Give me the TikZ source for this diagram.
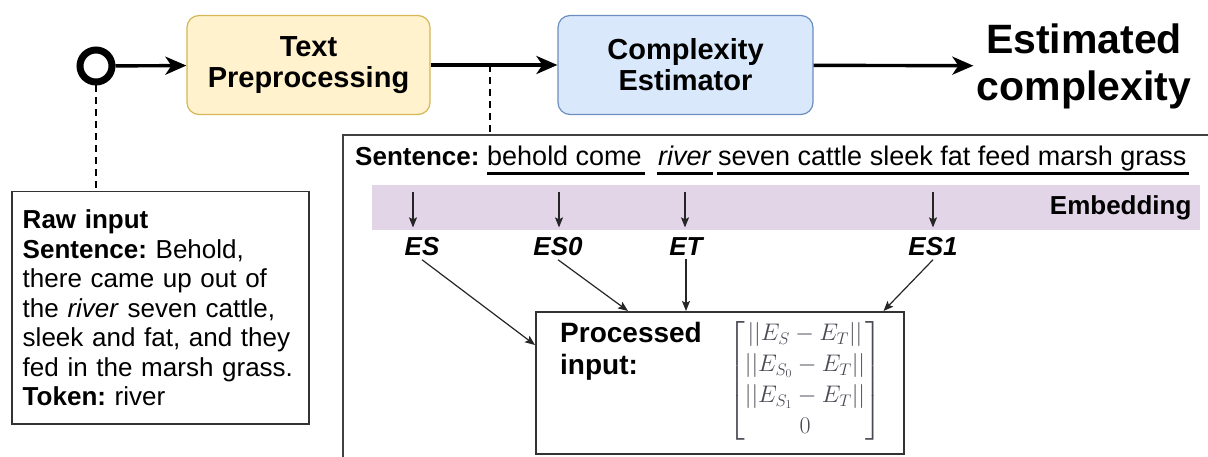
\RequirePackage{fix-cm}
\documentclass[tikz,border=0pt]{standalone}
\usepackage{amsmath}
\usepackage[no-math]{fontspec}
\setmainfont{Liberation Sans}
\usetikzlibrary{arrows.meta,positioning,calc}
\definecolor{prepfill}{HTML}{FFF2CC}
\definecolor{prepdraw}{HTML}{D6B656}
\definecolor{estfill}{HTML}{DAE8FC}
\definecolor{estdraw}{HTML}{6C8EBF}
\definecolor{embfill}{HTML}{E1D5E7}
\definecolor{mathgray}{HTML}{4A4A55}
\frenchspacing

\begin{document}
\begin{tikzpicture}[x=1pt, y=-1pt,
   stage/.style = {draw, rounded corners=12pt, line width=1.2pt, minimum height=99pt,
                   align=center, font=\fontsize{29}{31}\selectfont\bfseries},
   flow/.style = {-{Stealth[length=21pt, width=18pt, inset=6pt]}, line width=3.4pt},
   link/.style = {dash pattern=on 7pt off 5pt, line width=1.8pt},
   emb/.style = {-{Stealth[length=10pt, width=8pt, inset=2pt]}, line width=1.2pt, black!85},
   vec/.style = {font=\fontsize{26}{30}\selectfont\bfseries\itshape},
   words/.style = {inner sep=0pt, font=\fontsize{27}{30}\selectfont},
   box/.style = {draw=black!80, line width=1.5pt}
  ]
   \useasboundingbox (0,0) rectangle (1208,457);
   % top row
   \node[circle, draw, line width=7pt, minimum size=32pt, inner sep=0pt] (start) at (96,66) {};
   \node[stage, draw=prepdraw, fill=prepfill, minimum width=243pt] (prep) at (308.5,65) {Text\\Preprocessing};
   \node[stage, draw=estdraw, fill=estfill, minimum width=255pt] (est) at (685.5,65) {Complexity\\Estimator};
   \node[align=center, font=\fontsize{41}{47}\selectfont\bfseries] (out) at (1084,66) {Estimated\\complexity};
   \draw[flow] (start) -- (prep);
   \draw[flow] (prep) -- (est);
   \draw[flow] (est) -- (out);
   \coordinate (tap) at (490,65);
   \coordinate (frame) at (343,135);

   % raw input
   \node[box, anchor=north west, minimum width=297pt, minimum height=232pt, inner xsep=11pt,
         text width=275pt, align=left, font=\fontsize{26}{29.5}\selectfont] (raw) at (11,191)
        {\textbf{Raw input}\\ \textbf{Sentence:} Behold,\\ there came up out of\\
         the \textit{river} seven cattle,\\ sleek and fat, and they\\
         fed in the marsh grass.\\ \textbf{Token:} river};
   \draw[link] (start.south) -- (start |- raw.north);

   % processing frame
   \draw[black!75, line width=1.5pt] (1208,135) -| (343,457);
   \draw[link] (tap) -- (tap |- frame);
   \node[words, anchor=base west, font=\fontsize{26}{30}\selectfont\bfseries] (lbl) at (355,166) {Sentence:};
   \node[words, anchor=base west] (w1) at (487,166) {behold come};
   \node[words, anchor=base west] (w2) at (658,166) {\textit{river}};
   \node[words, anchor=base west] (w3) at (718,166) {seven cattle sleek fat feed marsh grass};
   \draw[line width=3pt] ($(w1.base west)+(0,8)$) -- ($(w1.base east)+(3,8)$);
   \draw[line width=3pt] ($(w2.base west)+(-1,8)$) -- ($(w2.base east)+(1,8)$);
   \draw[line width=3pt] ($(w3.base west)+(-1,8)$) -- ($(w3.base east)+(2,8)$);

   \node[fill=embfill, minimum width=828pt, minimum height=45pt, inner sep=0pt, anchor=north west] (band) at (372,185) {};
   \node[anchor=east, font=\fontsize{26}{30}\selectfont\bfseries] (embl) at (1195,208) {Embedding};

   \node[vec] (es) at (422,247) {ES};
   \node[vec] (es0) at (558,247) {ES0};
   \node[vec] (et) at (686,247) {ET};
   \node[vec] (es1) at (933,247) {ES1};
   \foreach \v/\dx in {es/-9, es0/1, et/-1, es1/0}
     \draw[emb] ($(band.north -| \v)+(\dx,7)$) -- ($(band.south -| \v)+(\dx,-3)$);

   % processed input
   \node[box, minimum width=368pt, minimum height=142pt, anchor=north west] (proc) at (535,311) {};
   \node[anchor=north west, align=left, inner sep=0pt,
         font=\fontsize{28}{32}\selectfont\bfseries] (ptxt) at (560,322) {Processed\\input:};
   \node[text=mathgray, font=\fontsize{24}{28}\selectfont] (vecs) at (805,381)
        {$\renewcommand{\arraystretch}{1.1}\begin{bmatrix} ||E_S - E_T|| \\ ||E_{S_0} - E_T|| \\ ||E_{S_1} - E_T|| \\ 0 \end{bmatrix}$};
   \draw[emb] (es.south) -- ($(proc.north west)+(0,34)$);
   \draw[emb] (es0.south) -- ($(proc.north west)+(93,0)$);
   \draw[emb] (et.south) -- (proc.north -| et);
   \draw[emb] (es1.south) -- ($(proc.north east)+(-21,0)$);
\end{tikzpicture}
\end{document}
